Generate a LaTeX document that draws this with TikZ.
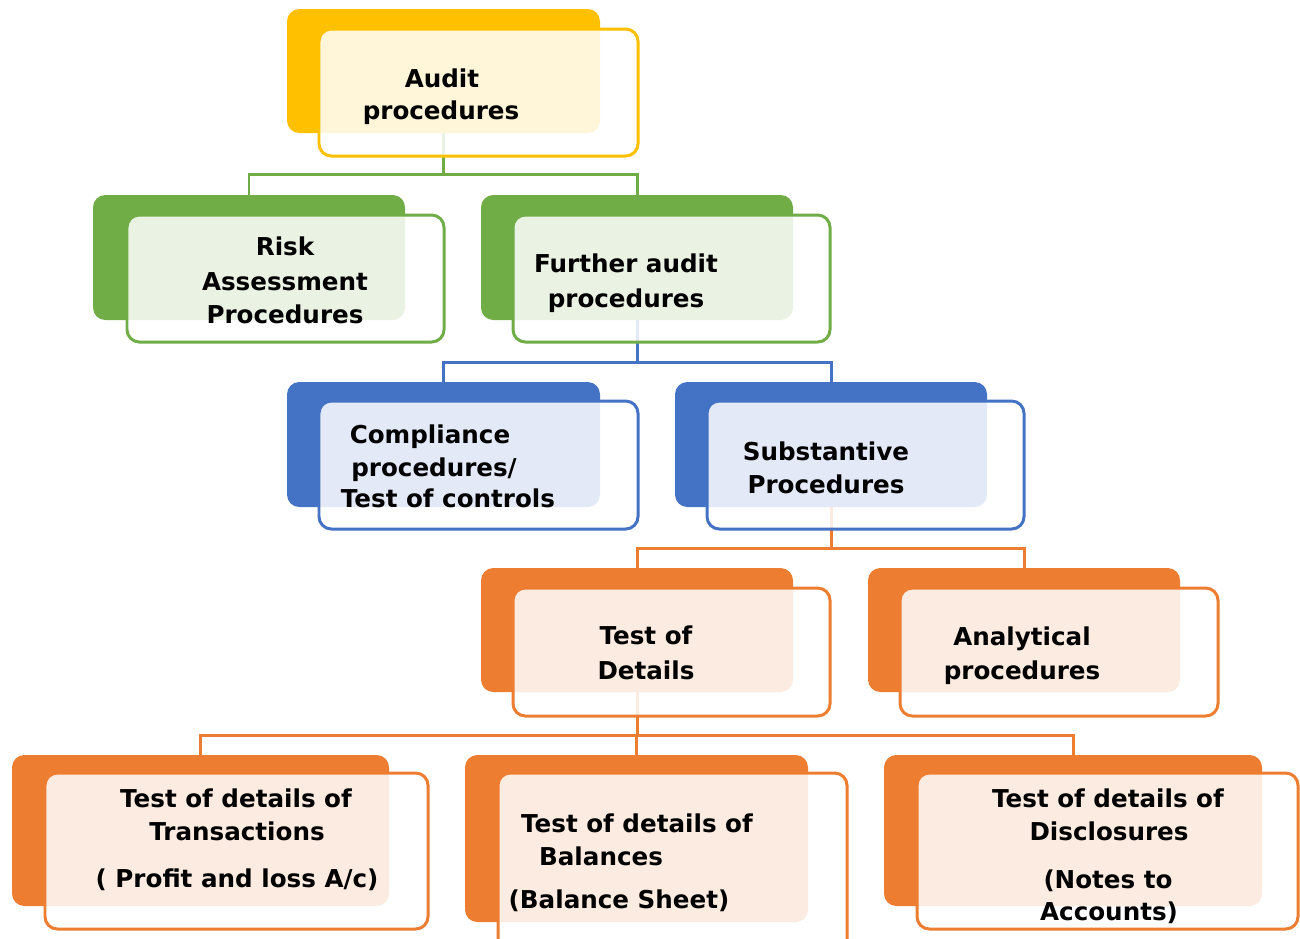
\documentclass[tikz,border=0pt]{standalone}
\usepackage{fontspec}
\setmainfont{DejaVu Sans}
\definecolor{cgold}{HTML}{FFC000}
\definecolor{cgreen}{HTML}{70AD47}
\definecolor{cblue}{HTML}{4472C4}
\definecolor{corange}{HTML}{ED7D31}

\tikzset{
  backbox/.style={draw=none, fill=#1, rounded corners=7pt, inner sep=0pt},
  frontbox/.style={draw=#1, line width=1.7pt, fill=white, fill opacity=0.85,
                   rounded corners=7pt, inner sep=0pt},
  link/.style={draw=#1, line width=1.7pt},
  txt/.style={inner sep=0pt, anchor=base, text=black,
              font=\fontsize{14}{17}\selectfont\bfseries}
}

% a rounded tile given by its corners (x1,y1) and (x2,y2)
\newcommand\tile[7]{%
  \node[#2=#3, minimum width={(#6-#4)*0.02cm}, minimum height={(#7-#5)*0.02cm}]
    (#1) at ({(#4+#6)/2},{(#5+#7)/2}) {};}

\begin{document}
\begin{tikzpicture}[x=0.02cm, y=-0.02cm]
\useasboundingbox (0,0) rectangle (1300,938);

% solid coloured tiles
\tile{audit}{backbox}{cgold}{287}{9}{600}{133}
\tile{risk}{backbox}{cgreen}{93}{195}{405}{320}
\tile{further}{backbox}{cgreen}{481}{195}{793}{320}
\tile{compl}{backbox}{cblue}{287}{382}{600}{507}
\tile{subst}{backbox}{cblue}{675}{382}{987}{507}
\tile{tod}{backbox}{corange}{481}{568}{793}{692}
\tile{analyt}{backbox}{corange}{868}{568}{1180}{692}
\tile{trans}{backbox}{corange}{12}{755}{389}{906}
\tile{bal}{backbox}{corange}{465}{755}{808}{922}
\tile{discl}{backbox}{corange}{884}{755}{1262}{906}

% tree connectors
\draw[link=cgreen] (audit.south) -- ++(0,41) -| (risk.north);
\draw[link=cgreen] (audit.south) -- ++(0,41) -| (further.north);
\draw[link=cblue] (further.south) -- ++(0,42) -| (compl.north);
\draw[link=cblue] (further.south) -- ++(0,42) -| (subst.north);
\draw[link=corange] (subst.south) -- ++(0,41) -| (tod.north);
\draw[link=corange] (subst.south) -- ++(0,41) -| (analyt.north);
\draw[link=corange] (tod.south) -- ++(0,43) -| (trans.north);
\draw[link=corange] (tod.south) -- ++(0,43) -| (bal.north);
\draw[link=corange] (tod.south) -- ++(0,43) -| (discl.north);

% translucent outlined tiles on top
\tile{audit-f}{frontbox}{cgold}{319}{29}{638}{156}
\tile{risk-f}{frontbox}{cgreen}{127}{215}{444}{342}
\tile{further-f}{frontbox}{cgreen}{513}{215}{830}{342}
\tile{compl-f}{frontbox}{cblue}{319}{401}{638}{529}
\tile{subst-f}{frontbox}{cblue}{707}{401}{1024}{529}
\tile{tod-f}{frontbox}{corange}{513}{588}{830}{716}
\tile{analyt-f}{frontbox}{corange}{900}{588}{1218}{716}
\tile{trans-f}{frontbox}{corange}{45}{773}{428}{929}
\tile{bal-f}{frontbox}{corange}{498}{773}{847}{952}
\tile{discl-f}{frontbox}{corange}{917}{773}{1298}{929}

% labels
\node[txt] (audit-t1) at (442,87) {Audit};
\node[txt] (audit-t2) at (441,119) {procedures};

\node[txt] (risk-t1) at (285,255) {Risk};
\node[txt] (risk-t2) at (285,290) {Assessment};
\node[txt] (risk-t3) at (285,323) {Procedures};

\node[txt] (further-t1) at (626,272) {Further audit};
\node[txt] (further-t2) at (626,307) {procedures};

\node[txt] (compl-t1) at (430,443) {Compliance};
\node[txt] (compl-t2) at (434,476) {procedures/};
\node[txt] (compl-t3) at (448,507) {Test of controls};

\node[txt] (subst-t1) at (826,460) {Substantive};
\node[txt] (subst-t2) at (826,493) {Procedures};

\node[txt] (tod-t1) at (646,644) {Test of};
\node[txt] (tod-t2) at (646,679) {Details};

\node[txt] (analyt-t1) at (1022,645) {Analytical};
\node[txt] (analyt-t2) at (1022,679) {procedures};

\node[txt] (trans-t1) at (236,807) {Test of details of};
\node[txt] (trans-t2) at (237,840) {Transactions};
\node[txt] (trans-t3) at (237,887) {( Profit and loss A/c)};

\node[txt] (bal-t1) at (637,832) {Test of details of};
\node[txt] (bal-t2) at (601,865) {Balances};
\node[txt] (bal-t3) at (619,908) {(Balance Sheet)};

\node[txt] (discl-t1) at (1108,807) {Test of details of};
\node[txt] (discl-t2) at (1109,840) {Disclosures};
\node[txt] (discl-t3) at (1108,888) {(Notes to};
\node[txt] (discl-t4) at (1109,920) {Accounts)};
\end{tikzpicture}
\end{document}
